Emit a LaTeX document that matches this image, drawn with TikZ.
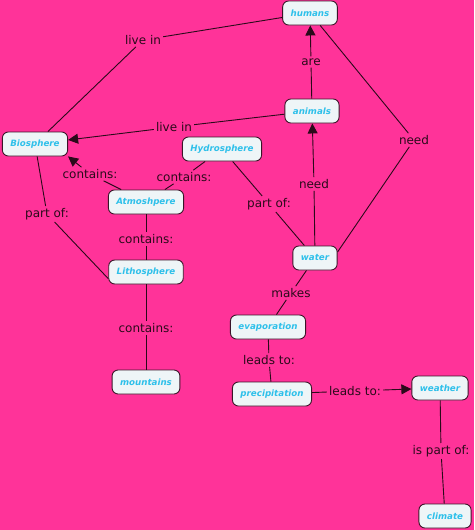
\documentclass[tikz,border=0pt]{standalone}
\usepackage{fontspec}
\setmainfont{DejaVu Sans}
\usetikzlibrary{arrows.meta}
\definecolor{bgpink}{HTML}{FF3399}
\definecolor{boxfill}{HTML}{EEF5F7}
\definecolor{boxline}{HTML}{3A1428}
\definecolor{conc}{HTML}{2EC0EA}
\definecolor{ink}{HTML}{2A0A1A}
\tikzset{
  concept/.style={draw=boxline, line width=0.9pt, fill=boxfill, rounded corners=6pt,
    text=conc, font=\fontsize{8.7}{10}\selectfont\bfseries\itshape,
    inner xsep=8pt, inner ysep=3pt, minimum height=24pt},
  lbl/.style={text=ink, font=\fontsize{12}{14}\selectfont, inner sep=2pt},
  link/.style={draw=ink, line width=0.9pt},
  arr/.style={link, -{Triangle[length=10pt,width=10pt]}}
}
\begin{document}
\begin{tikzpicture}[x=1pt,y=-1pt]
\fill[bgpink] (0,0) rectangle (474,530);
\useasboundingbox (0,0) rectangle (474,530);
% concepts
\node[concept] (hum) at (310,13) {humans};
\node[concept] (ani) at (312,111) {animals};
\node[concept] (bio) at (35,144) {Biosphere};
\node[concept] (hyd) at (222,149) {Hydrosphere};
\node[concept] (atm) at (146,202) {Atmoshpere};
\node[concept] (lit) at (146,272) {Lithosphere};
\node[concept] (wat) at (315,258) {water};
\node[concept] (eva) at (268,327) {evaporation};
\node[concept] (mou) at (146,382) {mountains};
\node[concept] (pre) at (272,394) {precipitation};
\node[concept] (wea) at (440,388) {weather};
\node[concept] (cli) at (445,516) {climate};
% linking phrases
\node[lbl] (l1) at (143,40) {live in};
\node[lbl] (l2) at (311,62) {are};
\node[lbl] (l3) at (174,127) {live in};
\node[lbl] (l4) at (414,140) {need};
\node[lbl] (l5) at (90,174) {contains:};
\node[lbl] (l6) at (184,177) {contains:};
\node[lbl] (l7) at (314,184) {need};
\node[lbl] (l8) at (47,214) {part of:};
\node[lbl] (l9) at (269,204) {part of:};
\node[lbl] (l10) at (146,239) {contains:};
\node[lbl] (l11) at (291,293) {makes};
\node[lbl] (l12) at (146,328) {contains:};
\node[lbl] (l13) at (269,360) {leads to:};
\node[lbl] (l14) at (355,391) {leads to:};
\node[lbl] (l15) at (441,451) {is part of:};
% connectors
\draw[link] (hum) -- (l1);
\draw[link] (l1) -- (bio);
\draw[link] (ani) -- (l2);
\draw[arr] (l2) -- (hum);
\draw[link] (ani) -- (l3);
\draw[arr] (l3) -- (bio);
\draw[link] (hum) -- (l4);
\draw[link] (l4) -- (wat.15);
\draw[link] (atm) -- (l5);
\draw[arr] (l5) -- (bio.south east);
\draw[link] (atm) -- (l6);
\draw[link] (l6) -- (hyd);
\draw[link] (wat) -- (l7);
\draw[arr] (l7) -- (ani);
\draw[link] (bio) -- (l8);
\draw[link] (l8) -- (lit.190);
\draw[link] (hyd) -- (l9);
\draw[link] (l9) -- (wat);
\draw[link] (atm) -- (l10);
\draw[link] (l10) -- (lit);
\draw[link] (wat) -- (l11);
\draw[link] (l11) -- (eva);
\draw[link] (lit) -- (l12);
\draw[link] (l12) -- (mou);
\draw[link] (eva) -- (l13);
\draw[link] (l13) -- (pre);
\draw[link] (pre) -- (l14);
\draw[arr] (l14) -- (wea);
\draw[link] (wea) -- (l15);
\draw[link] (l15) -- (cli);
\end{tikzpicture}
\end{document}
